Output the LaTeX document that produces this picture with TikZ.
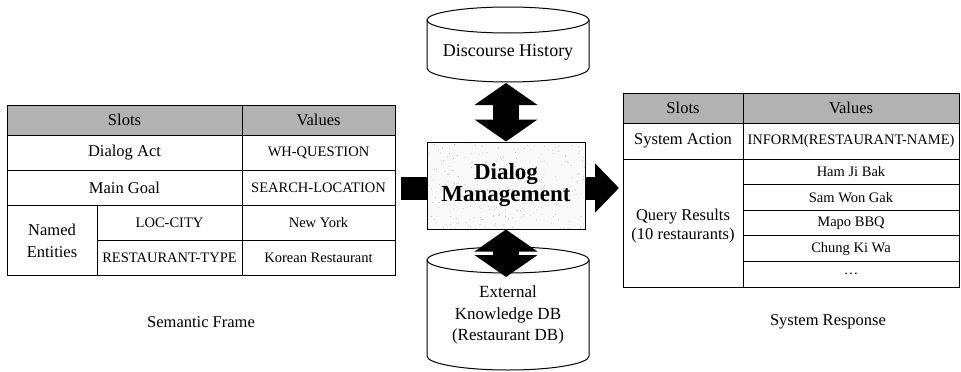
\documentclass[tikz,border=0pt]{standalone}
\usepackage{fontspec}
\setmainfont{Liberation Serif}
\usetikzlibrary{arrows.meta,calc}

\tikzset{
	cell/.style = {inner sep=0pt, align=center, font=\fontsize{16.5}{19}\selectfont},
	smallcell/.style = {inner sep=0pt, align=center, font=\fontsize{14.5}{16}\selectfont},
	headfill/.style = {fill=gray!60},
	grid/.style = {line width=1pt},
	dmbox/.style = {
		draw, line width=1pt, fill=gray!5,
		minimum width=158pt, minimum height=87pt,
		align=center, font=\bfseries\fontsize{23}{22}\selectfont,
		path picture={
			\foreach \k in {1,...,260}
				\fill [gray!65] ($(path picture bounding box.south west)+({rnd*158pt},{rnd*87pt})$) circle (0.5pt);
		},
	},
	bigarrow/.style = {line width=26pt, {Triangle[width=62pt,length=22pt]}-{Triangle[width=62pt,length=22pt]}},
	drum/.pic = {
		\draw [grid, fill=white] (-81, 0) -- ++(0, \drumh)
		      arc [start angle=180, end angle=0, x radius=81, y radius=14] -- (81, 0);
		\draw [grid, fill=white] (0, 0) ellipse [x radius=81, y radius=13];
	}
}

\begin{document}
\begin{tikzpicture}[x=1pt, y=-1pt]
	\useasboundingbox (0, 0) rectangle (961, 372);
	\pgfmathsetseed{7}
	% semantic frame
	\fill [headfill] (7, 105) rectangle (395, 135);
	\draw [grid] (7, 105) rectangle (395, 275);
	\foreach \y in {135, 170, 205}
	{
		\draw [grid] (7, \y) -- (395, \y);
	}
	\draw [grid] (97, 240) -- (395, 240);
	\draw [grid] (242, 105) -- (242, 275);
	\draw [grid] (97, 205) -- (97, 275);
	\node [cell] (lslots) at (124.5, 120) {Slots};
	\node [cell] (lvalues) at (318.5, 120) {Values};
	\node [cell] (act) at (124.5, 152.5) {Dialog Act};
	\node [smallcell] (actval) at (318.5, 152.5) {WH-QUESTION};
	\node [cell] (goal) at (124.5, 187.5) {Main Goal};
	\node [smallcell] (goalval) at (318.5, 187.5) {SEARCH-LOCATION};
	\node [cell, font=\fontsize{16.5}{22}\selectfont] (named) at (52, 241) {Named\\Entities};
	\node [smallcell] (city) at (169.5, 222.5) {LOC-CITY};
	\node [smallcell] (cityval) at (318.5, 222.5) {New York};
	\node [smallcell] (rtype) at (169.5, 257.5) {RESTAURANT-TYPE};
	\node [smallcell] (rtypeval) at (318.5, 257.5) {Korean Restaurant};
	\node [cell] (frame) at (201, 322) {Semantic Frame};
	% dialog management and stores
	\def\drumh{48}
	\pic at (508, 20) {drum};
	\node [cell, font=\fontsize{18}{20}\selectfont] (hist) at (508, 52) {Discourse History};
	\def\drumh{96}
	\pic at (508, 260) {drum};
	\node [cell, font=\fontsize{17}{21.5}\selectfont] (kdb) at (508, 315) {External\\Knowledge DB\\(Restaurant DB)};
	\node [dmbox] (dm) at (506, 185.5) {Dialog\\Management};
	\coordinate (histout) at (506, 83);
	\coordinate (kdbin) at (506, 277);
	\coordinate (frameout) at (401, 188.5);
	\coordinate (resin) at (619, 188);
	\draw [bigarrow] (histout) -- (dm.north);
	\draw [bigarrow] (dm.south) -- (kdbin);
	\draw [line width=23pt] (frameout) -- (frameout -| dm.west);
	\draw [line width=23pt, -{Triangle[width=48pt,length=24pt]}] (resin -| dm.east) -- (resin);
	% system response
	\fill [headfill] (623, 93) rectangle (959, 123);
	\draw [grid] (623, 93) rectangle (959, 287);
	\draw [grid] (623, 123) -- (959, 123);
	\draw [grid] (623, 159) -- (959, 159);
	\draw [grid] (743, 93) -- (743, 287);
	\foreach \i in {1,2,3,4}
	{
		\draw [grid] (743, 159 + 25.6*\i) -- (959, 159 + 25.6*\i);
	}
	\node [cell] (rslots) at (683, 108) {Slots};
	\node [cell] (rvalues) at (851, 108) {Values};
	\node [cell] (sysact) at (683, 141) {System Action};
	\node [smallcell] (sysactval) at (851, 141) {INFORM(RESTAURANT-NAME)};
	\node [cell] (query) at (683, 226) {Query Results\\(10 restaurants)};
	\foreach [count=\i] \r in {Ham Ji Bak, Sam Won Gak, Mapo BBQ, Chung Ki Wa, \dots}
	{
		\node [smallcell] (res\i) at (851, 146.2 + 25.6*\i) {\r};
	}
	\node [cell] (resp) at (828, 322) {System Response};
\end{tikzpicture}
\end{document}
